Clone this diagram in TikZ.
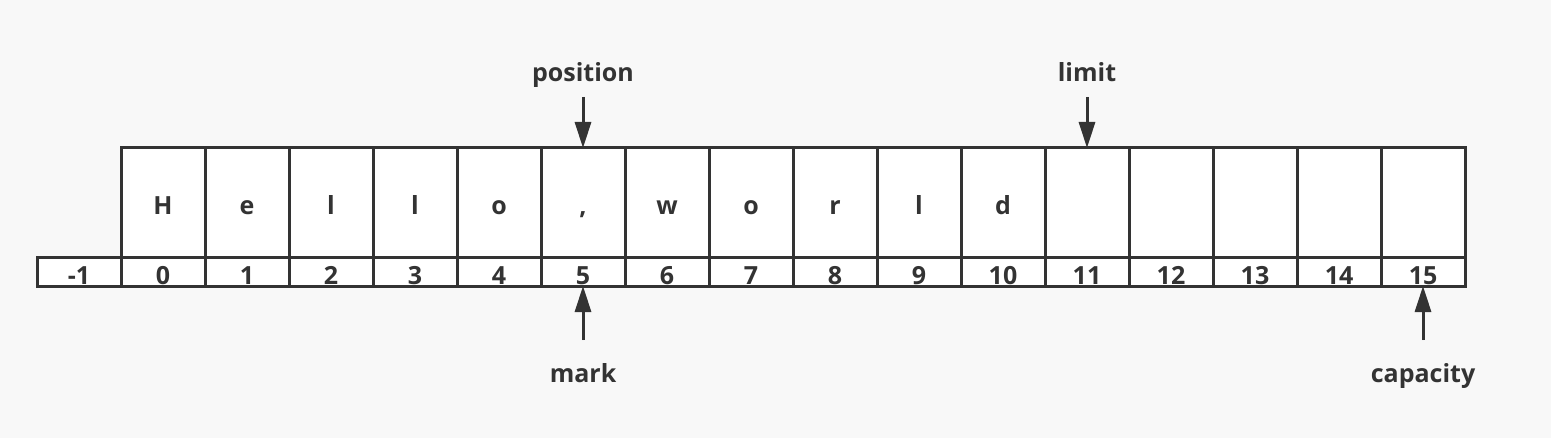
\documentclass[tikz,border=0pt]{standalone}
\usepackage{fontspec}
\setmainfont{Open Sans}
\usepackage{tikz}
\usetikzlibrary{arrows.meta, positioning}
\definecolor{ink}{RGB}{51,51,51}
\definecolor{paper}{RGB}{248,248,248}
\tikzset{
  cell/.style  = {draw=ink, line width=1.5pt, fill=white, outer sep=0pt,
                  minimum width=42pt, minimum height=54.5pt, inner sep=0pt,
                  text=ink, font=\fontsize{12.5}{15}\selectfont\bfseries,
                  text height=12.5pt, text depth=0pt},
  idx/.style   = {cell, minimum height=14.5pt},
  lbl/.style   = {text=ink, font=\fontsize{12.5}{15}\selectfont\bfseries,
                  outer sep=0pt, inner xsep=2pt, text height=9pt, text depth=3pt},
  toplbl/.style = {lbl, inner ysep=4.5pt},
  botlbl/.style = {lbl, inner ysep=12pt},
  ptr/.style   = {-{Triangle[length=13pt, width=8pt]}, draw=ink, fill=ink,
                  line width=1.5pt},
}

\begin{document}
\begin{tikzpicture}[x=0.5pt, y=-0.5pt]
    \fill[paper] (0,0) rectangle (1551,438);
    \useasboundingbox (0,0) rectangle (1551,438);

    % buffer cells and their indices
    \node[idx] (nm) at (79,271.5) {-1};
    \foreach \ch [count=\i from 0] in {H,e,l,l,o,{,},w,o,r,l,d,{},{},{},{},{}} {
      \node[cell] (c\i) at ({163+84*\i},202.5) {\ch};
      \node[idx]  (n\i) at ({163+84*\i},271.5) {\i};
    }

    \node[toplbl, above=25.5pt of c5]  (pos) {position};
    \node[toplbl, above=25.5pt of c11] (lim) {limit};
    \node[botlbl, below=27pt of n5]    (mrk) {mark};
    \node[botlbl, below=27pt of n15]   (cap) {capacity};

    \draw[ptr] (pos) -- (c5);
    \draw[ptr] (lim) -- (c11);
    \draw[ptr] (mrk) -- (n5);
    \draw[ptr] (cap) -- (n15);
\end{tikzpicture}
\end{document}
